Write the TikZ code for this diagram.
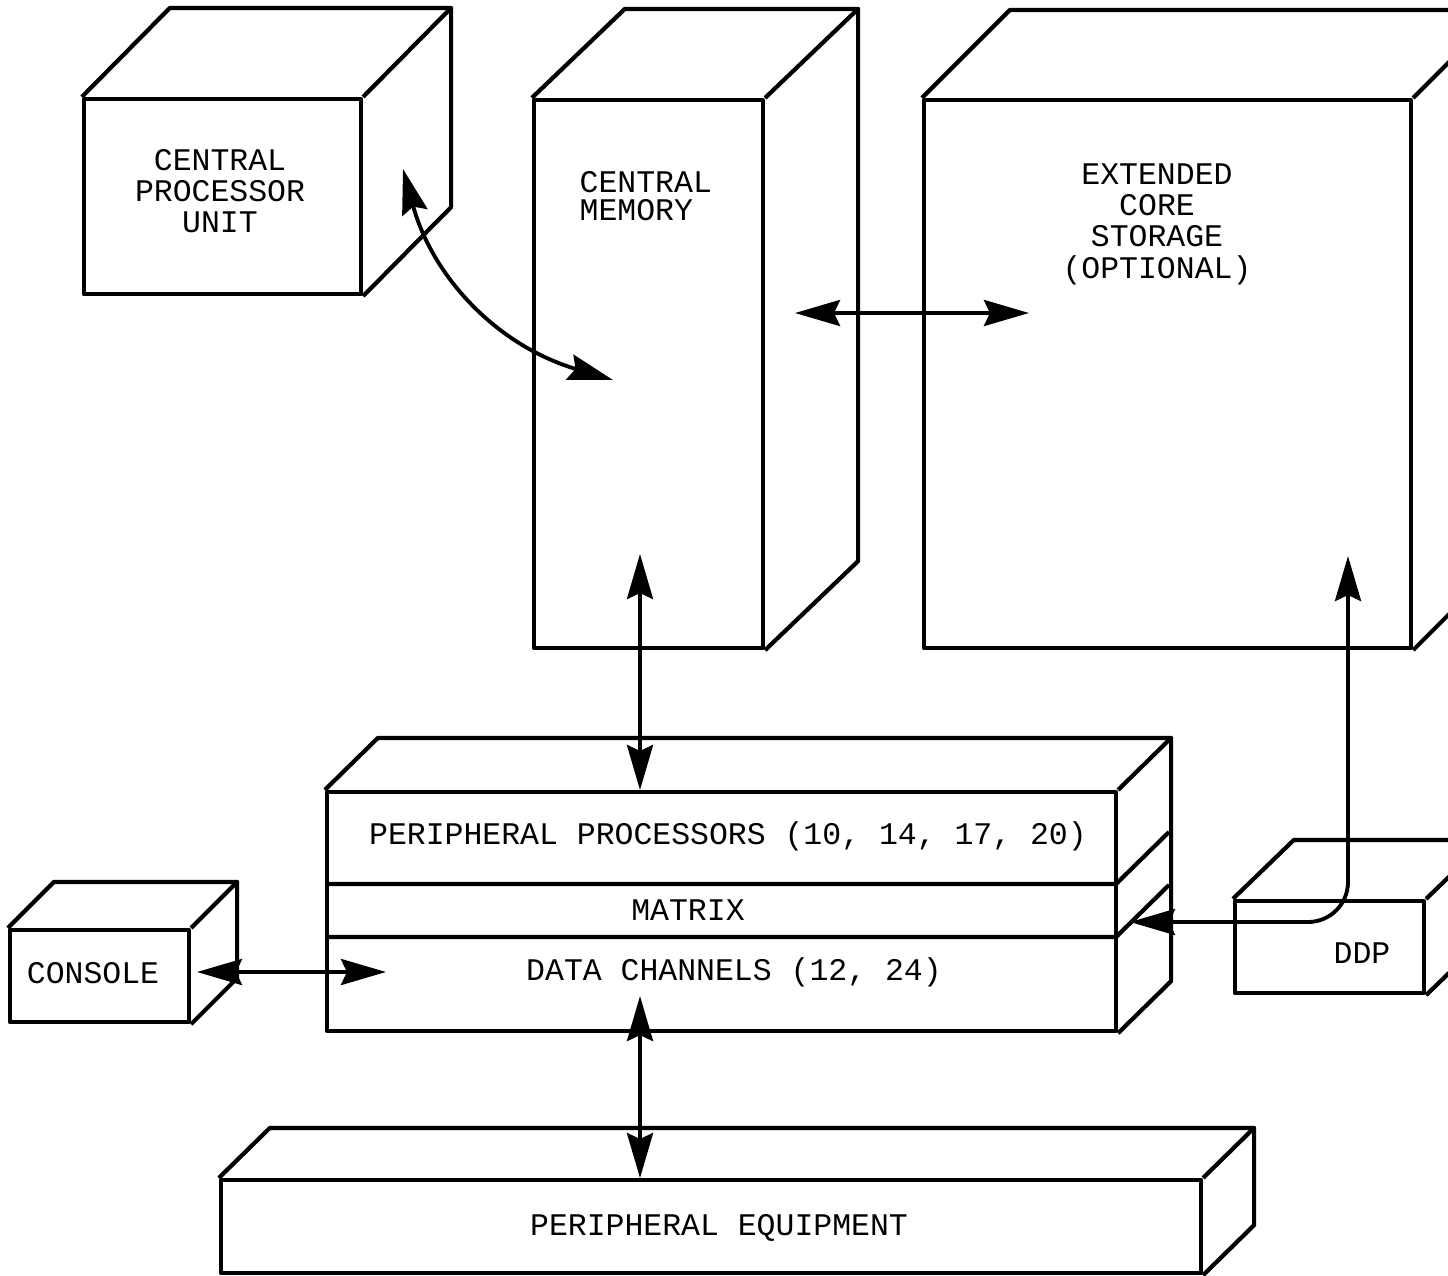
\documentclass[tikz,border=0pt]{standalone}
\usepackage{fontspec}
\setmainfont{Liberation Mono}
\usetikzlibrary{arrows.meta,fit}
\tikzset{
  facebox/.style={draw, line width=1.2pt, inner sep=0pt, line join=round},
  edgeline/.style={line width=1.2pt, line join=round},
  lbl/.style={font=\fontsize{8.95}{8.9}\selectfont, align=center, inner sep=0pt},
  tipS/.tip={Stealth[length=0.45cm,width=0.26cm,inset=0.06cm]},
  arr/.style={line width=1.1pt, tipS-tipS},
}
\newcommand\mycuboid[3]{%
  \draw[edgeline] (#1.north west) -- ++(#2,-#3) -- ([shift={(#2,-#3)}]#1.north east)
     -- ([shift={(#2,-#3)}]#1.south east) -- (#1.south east);
  \draw[edgeline] (#1.north east) -- ++(#2,-#3);
}
\begin{document}
\begin{tikzpicture}[x=0.01cm,y=-0.01cm]
\useasboundingbox (0,0) rectangle (1448,1275);
\clip (0,0) rectangle (1448,1275);

% Central processor unit
\node[facebox, fit={(84,99) (361,294)}] (cpu) {};
\mycuboid{cpu}{88}{89}
\node[lbl] (cputxt) at (220,191) {CENTRAL\\PROCESSOR\\UNIT};

% Central memory
\node[facebox, fit={(534,100) (763,648)}] (cm) {};
\mycuboid{cm}{93}{89}
\node[lbl, anchor=west, align=left, font=\fontsize{8.95}{7.8}\selectfont] (cmtxt) at (579,196) {CENTRAL\\MEMORY};

% Extended core storage
\node[facebox, fit={(924,100) (1411,648)}] (ecs) {};
\mycuboid{ecs}{88}{88}
\node[lbl] (ecstxt) at (1157,224) {EXTENDED\\CORE\\STORAGE\\(OPTIONAL)};

% Peripheral processors / matrix / data channels
\node[facebox, fit={(327,792) (1116,1031)}] (pp) {};
\mycuboid{pp}{53}{52}
\coordinate (d1L) at (327,884);
\coordinate (d1R) at (1116,884);
\coordinate (d2L) at (327,937);
\coordinate (d2R) at (1116,937);
\draw[edgeline] (d1L) -- (d1R) -- ++(53,-52);
\draw[edgeline] (d2L) -- (d2R) -- ++(53,-52);
\node[lbl] (pptxt) at (728,836) {PERIPHERAL PROCESSORS (10, 14, 17, 20)};
\node[lbl] (mtxtxt) at (688,910) {MATRIX};
\node[lbl] (dctxt) at (734,972) {DATA CHANNELS (12, 24)};

% Console
\node[facebox, fit={(10,930) (189,1022)}] (con) {};
\mycuboid{con}{46}{46}
\node[lbl] (contxt) at (93,973) {CONSOLE};

% DDP
\node[facebox, fit={(1235,901) (1424,993)}] (ddp) {};
\mycuboid{ddp}{61}{59}
\node[lbl] (ddptxt) at (1362,953) {DDP};

% Peripheral equipment
\node[facebox, fit={(221,1180) (1201,1273)}] (pe) {};
\mycuboid{pe}{51}{50}
\node[lbl] (petxt) at (719,1228) {PERIPHERAL EQUIPMENT};

% connector ends
\coordinate (cpuEnd) at (403,169);
\coordinate (cmEnd) at (613,380);
\coordinate (cmR) at (795,313);
\coordinate (ecsL) at (1029,313);
\coordinate (cmB) at (640,554);
\coordinate (ppT) at (640,790);
\coordinate (conR) at (197,972);
\coordinate (dcL) at (386,972);
\coordinate (dcB) at (640,996);
\coordinate (peT) at (640,1178);
\coordinate (mtxR) at (1130,922);
\coordinate (ecsB) at (1348,556);

% connectors
\draw[arr] (cpuEnd) .. controls (432,275) and (495,345) .. (cmEnd);
\draw[arr] (cmR) -- (ecsL);
\draw[arr] (cmB) -- (ppT);
\draw[arr] (conR) -- (dcL);
\draw[arr] (dcB) -- (peT);
\draw[arr, rounded corners=0.4cm] (mtxR) -| (ecsB);
\end{tikzpicture}
\end{document}
